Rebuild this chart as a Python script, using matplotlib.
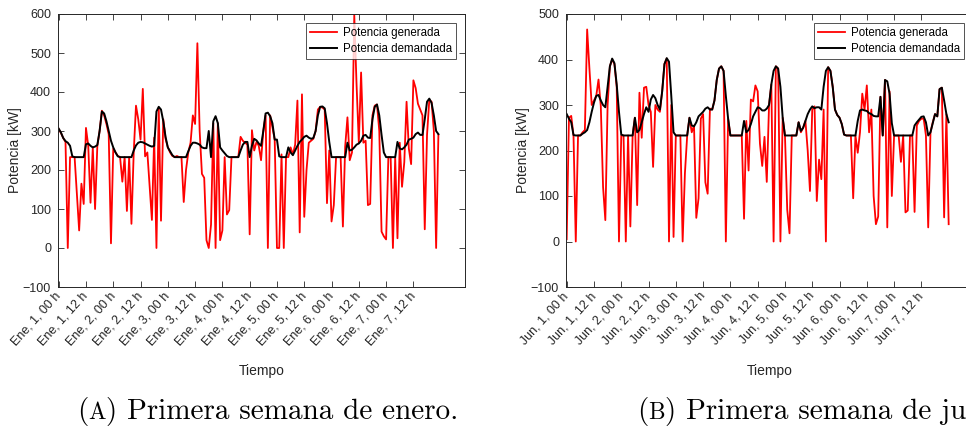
import numpy as np
import matplotlib
matplotlib.use("Agg")
import matplotlib.pyplot as plt
from matplotlib.transforms import ScaledTranslation

# Datos horarios (kW)
gen_ene = [305, 295, 282, 272, 0, 233, 233, 233, 140, 45, 165, 113,
           308, 262, 116, 258, 100, 262, 300, 352, 340, 318, 292, 12,
           255, 245, 236, 233, 170, 233, 95, 233, 62, 245, 365, 330,
           278, 408, 235, 245, 160, 72, 283, 0, 360, 70, 330, 280,
           258, 245, 236, 233, 236, 233, 233, 118, 200, 245, 270, 340,
           318, 525, 300, 190, 180, 20, 0, 60, 320, 0, 320, 20,
           45, 233, 86, 97, 233, 233, 233, 233, 285, 275, 270, 265,
           35, 302, 250, 272, 262, 225, 300, 340, 0, 340, 310, 278,
           0, 0, 240, 0, 233, 233, 258, 240, 265, 378, 40, 394,
           80, 200, 270, 275, 280, 300, 355, 362, 360, 355, 115, 250,
           68, 110, 233, 233, 233, 55, 260, 335, 225, 245, 597, 420,
           270, 450, 270, 275, 110, 113, 340, 365, 368, 300, 42, 30,
           22, 233, 233, 0, 233, 25, 270, 157, 220, 375, 255, 215,
           430, 410, 370, 355, 340, 48, 290, 380, 375, 300, 0, 290]
dem_ene = [306, 296, 282, 274, 270, 262, 235, 233, 233, 233, 233, 233,
           266, 268, 262, 258, 260, 264, 300, 350, 345, 325, 300, 275,
           258, 245, 235, 233, 233, 233, 233, 233, 233, 250, 263, 270,
           272, 271, 268, 265, 262, 260, 262, 350, 362, 355, 325, 285,
           258, 248, 238, 233, 233, 233, 233, 233, 233, 248, 262, 270,
           270, 268, 265, 258, 256, 256, 300, 233, 325, 338, 320, 258,
           250, 243, 236, 233, 233, 233, 233, 233, 250, 265, 272, 272,
           233, 262, 280, 276, 268, 262, 300, 345, 347, 338, 320, 278,
           278, 235, 233, 233, 233, 258, 245, 238, 250, 262, 272, 278,
           285, 288, 283, 280, 282, 300, 340, 362, 363, 358, 320, 272,
           233, 233, 233, 233, 233, 233, 233, 270, 250, 252, 258, 265,
           268, 275, 288, 290, 283, 282, 330, 362, 368, 340, 290, 245,
           233, 233, 233, 233, 233, 272, 255, 253, 258, 265, 278, 280,
           283, 292, 296, 290, 290, 330, 375, 383, 372, 340, 300, 292]

gen_jun = [5, 272, 276, 233, 0, 233, 233, 240, 245, 466, 380, 300,
           310, 320, 356, 298, 120, 47, 300, 385, 400, 390, 340, 0,
           233, 233, 0, 233, 33, 233, 272, 80, 327, 228, 338, 340,
           300, 285, 164, 300, 290, 285, 330, 390, 402, 0, 300, 10,
           233, 233, 233, 0, 150, 233, 272, 240, 255, 52, 95, 270,
           280, 130, 105, 292, 290, 310, 355, 380, 385, 375, 0, 270,
           233, 233, 233, 233, 233, 233, 50, 265, 156, 312, 308, 343,
           330, 215, 166, 230, 131, 300, 345, 0, 385, 380, 0, 272,
           233, 70, 18, 233, 233, 233, 262, 240, 250, 265, 200, 111,
           290, 297, 89, 180, 137, 290, 0, 383, 375, 340, 290, 278,
           272, 258, 235, 233, 233, 233, 95, 233, 195, 240, 325, 290,
           343, 240, 290, 100, 38, 55, 318, 233, 355, 31, 330, 100,
           233, 233, 233, 175, 233, 64, 68, 233, 233, 65, 255, 265,
           270, 270, 233, 31, 240, 262, 280, 275, 335, 338, 53, 280, 38]
dem_jun = [280, 270, 262, 234, 233, 233, 233, 237, 240, 245, 262, 285,
           305, 320, 322, 310, 300, 295, 340, 385, 402, 392, 345, 285,
           235, 233, 233, 233, 233, 233, 272, 240, 245, 262, 280, 295,
           285, 312, 322, 315, 300, 290, 330, 390, 403, 395, 320, 240,
           233, 233, 233, 233, 233, 233, 272, 255, 253, 262, 275, 280,
           285, 292, 295, 290, 290, 310, 355, 380, 385, 375, 320, 270,
           233, 233, 233, 233, 233, 233, 265, 240, 245, 258, 275, 285,
           295, 293, 288, 288, 292, 300, 345, 375, 385, 380, 340, 272,
           233, 233, 233, 233, 233, 233, 262, 243, 250, 265, 280, 290,
           297, 293, 295, 295, 290, 340, 375, 383, 375, 340, 290, 278,
           272, 258, 235, 233, 233, 233, 233, 233, 265, 288, 290, 288,
           287, 282, 280, 276, 275, 275, 318, 233, 355, 352, 325, 260,
           233, 233, 233, 233, 233, 233, 233, 233, 233, 255, 262, 268,
           274, 275, 262, 233, 240, 260, 280, 275, 335, 338, 310, 280, 262]

horas_tick = list(range(0, 168, 12))
etiquetas_ene = [f"Ene, {d}, {h:02d} h" for d in range(1, 8) for h in (0, 12)]
etiquetas_jun = [f"Jun, {d}, {h:02d} h" for d in range(1, 8) for h in (0, 12)]

W, H = 966, 429
gris = "#262626"
plt.rcParams["font.family"] = ["Liberation Sans", "DejaVu Sans"]

fig = plt.figure(figsize=(W / 100, H / 100), dpi=100)


def panel(left, ylim, gen, dem, etiquetas):
    ax = fig.add_axes([left / W, (H - 287) / H, 407 / W, 273 / H])
    ax.plot(np.arange(len(gen)), gen, color="red", lw=1.3, label="Potencia generada")
    ax.plot(np.arange(len(dem)), dem, color="black", lw=1.4, label="Potencia demandada")
    ax.set_xlim(-0.3, 178.7)
    ax.set_ylim(*ylim)
    ax.set_yticks(np.arange(ylim[0], ylim[1] + 1, 100))
    ax.set_xticks(horas_tick)
    ax.set_xticklabels(etiquetas, rotation=48, ha="right", va="center",
                       rotation_mode="anchor")
    off = ScaledTranslation(13 / 100, -8 / 100, fig.dpi_scale_trans)
    for lbl in ax.get_xticklabels():
        lbl.set_transform(lbl.get_transform() + off)
    ax.tick_params(direction="in", length=4, width=0.6, colors=gris,
                   labelsize=9, top=True, right=True, pad=5)
    for s in ax.spines.values():
        s.set_color(gris)
        s.set_linewidth(0.7)
    ax.set_ylabel("Potencia [kW]", fontsize=10, color=gris)
    ax.yaxis.set_label_coords(-0.089, 0.5)
    ax.set_xlabel("Tiempo", fontsize=10, color=gris)
    ax.xaxis.set_label_coords(0.5, -0.282)
    leg = ax.legend(loc="upper right", fontsize=8.3, frameon=True, fancybox=False,
                    edgecolor=gris, handlelength=2.3, borderaxespad=0.8,
                    borderpad=0.35, labelspacing=0.3, handletextpad=0.5)
    leg.get_frame().set_linewidth(0.7)
    return ax


panel(58, (-100, 600), gen_ene, dem_ene, etiquetas_ene)
panel(566, (-100, 500), gen_jun, dem_jun, etiquetas_jun)

# Subtitulos estilo LaTeX
renderer = fig.canvas.get_renderer()


def caption(x_left, y_base, letra, texto, size=21):
    x = x_left
    for s, fs in (("(", size), (letra, size * 0.8), (") " + texto, size)):
        t = fig.text(x / W, y_base / H, s, fontsize=fs, family="cmr10",
                     ha="left", va="baseline")
        x += t.get_window_extent(renderer).width


caption(77, 10, "A", "Primera semana de enero.")
caption(637, 10, "B", "Primera semana de ju")

fig.savefig("out.png", dpi=100)
